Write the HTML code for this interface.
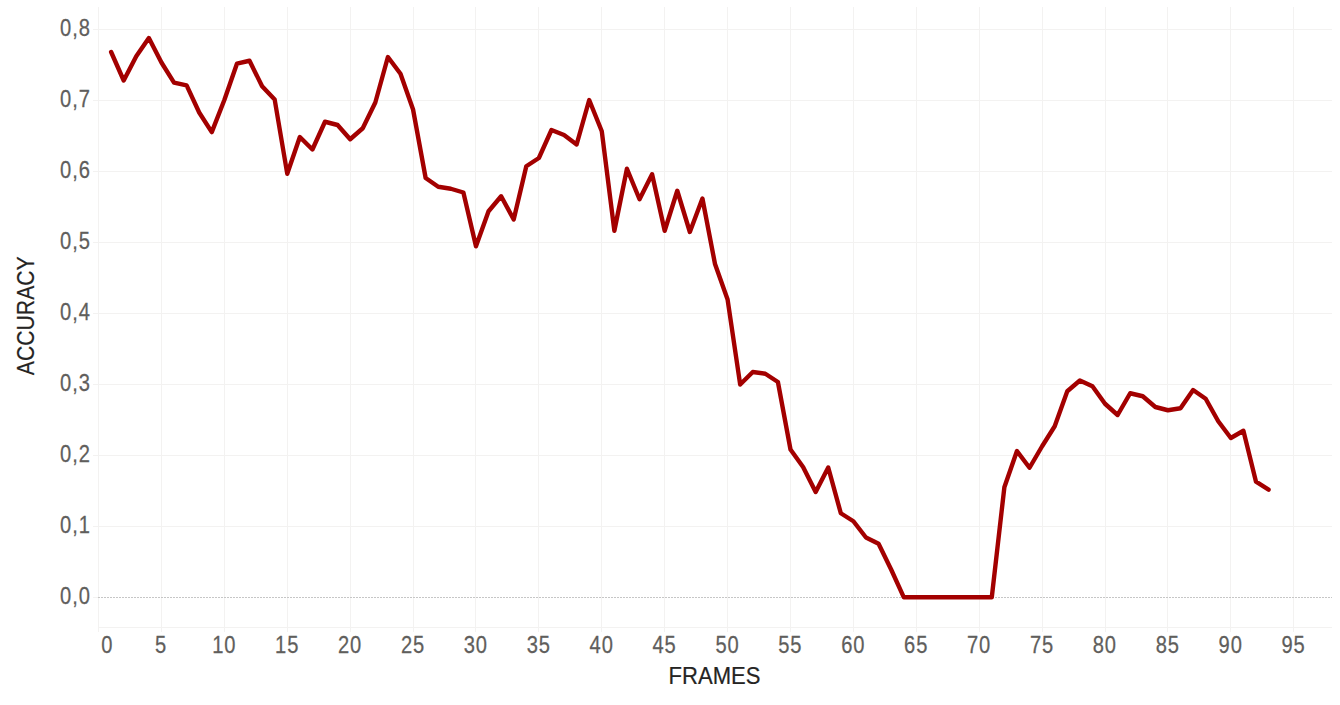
<!DOCTYPE html>
<html><head><meta charset="utf-8"><title>chart</title>
<style>
html,body{margin:0;padding:0;background:#fff;}
body{width:1340px;height:705px;overflow:hidden;font-family:"Liberation Sans",sans-serif;}
svg{display:block;position:absolute;left:0;top:0;}
text{font-family:"Liberation Sans",sans-serif;}
</style></head><body>
<svg width="1340" height="705" viewBox="0 0 1340 705">
<rect width="1340" height="705" fill="#ffffff"/>

<g fill="#f3f2f1" shape-rendering="crispEdges">
<rect x="98" y="7" width="1" height="625"/>
<rect x="161" y="7" width="1" height="625"/>
<rect x="224" y="7" width="1" height="625"/>
<rect x="287" y="7" width="1" height="625"/>
<rect x="350" y="7" width="1" height="625"/>
<rect x="413" y="7" width="1" height="625"/>
<rect x="475" y="7" width="1" height="625"/>
<rect x="538" y="7" width="1" height="625"/>
<rect x="601" y="7" width="1" height="625"/>
<rect x="664" y="7" width="1" height="625"/>
<rect x="727" y="7" width="1" height="625"/>
<rect x="790" y="7" width="1" height="625"/>
<rect x="853" y="7" width="1" height="625"/>
<rect x="916" y="7" width="1" height="625"/>
<rect x="979" y="7" width="1" height="625"/>
<rect x="1042" y="7" width="1" height="625"/>
<rect x="1105" y="7" width="1" height="625"/>
<rect x="1167" y="7" width="1" height="625"/>
<rect x="1230" y="7" width="1" height="625"/>
<rect x="1293" y="7" width="1" height="625"/>
<rect x="93" y="29" width="1239" height="1"/>
<rect x="93" y="100" width="1239" height="1"/>
<rect x="93" y="171" width="1239" height="1"/>
<rect x="93" y="242" width="1239" height="1"/>
<rect x="93" y="313" width="1239" height="1"/>
<rect x="93" y="384" width="1239" height="1"/>
<rect x="93" y="455" width="1239" height="1"/>
<rect x="93" y="526" width="1239" height="1"/>
<rect x="98" y="627" width="1234" height="1"/>
<rect x="93" y="597" width="6" height="1"/>
</g>
<line x1="98" y1="597.5" x2="1332" y2="597.5" stroke="#c6c6c6" stroke-width="1" stroke-dasharray="2 1" shape-rendering="crispEdges"/>
<polyline fill="none" stroke="#a30000" stroke-width="4.4" stroke-linejoin="round" stroke-linecap="round" points="111.12,52.00 123.70,80.50 136.28,56.30 148.86,38.00 161.44,62.50 174.03,82.70 186.61,85.40 199.19,112.50 211.77,132.10 224.35,100.00 236.93,63.70 249.51,60.75 262.09,86.25 274.67,99.50 287.25,173.75 299.84,137.00 312.42,149.50 325.00,121.75 337.58,125.00 350.16,139.25 362.74,128.25 375.32,102.50 387.90,57.00 400.48,73.75 413.06,109.50 425.65,178.00 438.23,186.75 450.81,188.75 463.39,192.50 475.97,246.25 488.55,211.25 501.13,196.25 513.71,219.50 526.29,166.25 538.88,158.00 551.46,130.00 564.04,135.00 576.62,144.50 589.20,100.00 601.78,131.25 614.36,230.75 626.94,168.75 639.52,199.25 652.10,174.25 664.68,230.75 677.27,190.75 689.85,232.00 702.43,198.50 715.01,264.00 727.59,299.50 740.17,384.50 752.75,372.00 765.33,373.75 777.91,382.00 790.49,449.50 803.08,467.00 815.66,492.00 828.24,467.50 840.82,513.25 853.40,521.25 865.98,537.50 878.56,543.75 891.14,569.50 903.72,597.20 916.30,597.20 928.89,597.20 941.47,597.20 954.05,597.20 966.63,597.20 979.21,597.20 991.79,597.20 1004.37,487.25 1016.95,451.00 1029.53,467.75 1042.12,446.25 1054.70,426.25 1067.28,391.25 1079.86,380.50 1092.44,386.25 1105.02,403.75 1117.60,415.00 1130.18,393.25 1142.76,396.25 1155.34,407.00 1167.92,410.25 1180.51,408.25 1193.09,390.00 1205.67,398.75 1218.25,421.25 1230.83,438.00 1243.41,430.75 1255.99,481.70 1268.57,489.70"/>
<g fill="#605e5c" stroke="#605e5c" stroke-width="0.25" font-size="23.0">
<text transform="translate(60.0,36) scale(0.875,1)" letter-spacing="1.1">0,8</text>
<text transform="translate(60.0,107) scale(0.875,1)" letter-spacing="1.1">0,7</text>
<text transform="translate(60.0,178) scale(0.875,1)" letter-spacing="1.1">0,6</text>
<text transform="translate(60.0,249) scale(0.875,1)" letter-spacing="1.1">0,5</text>
<text transform="translate(60.0,320) scale(0.875,1)" letter-spacing="1.1">0,4</text>
<text transform="translate(60.0,391) scale(0.875,1)" letter-spacing="1.1">0,3</text>
<text transform="translate(60.0,462) scale(0.875,1)" letter-spacing="1.1">0,2</text>
<text transform="translate(60.0,533) scale(0.875,1)" letter-spacing="1.1">0,1</text>
<text transform="translate(60.0,604) scale(0.875,1)" letter-spacing="1.1">0,0</text>
</g>
<g fill="#605e5c" stroke="#605e5c" stroke-width="0.25" font-size="23.0">
<text transform="translate(101.19999999999999,653) scale(0.875,1)">0</text>
<text transform="translate(154.9,653) scale(0.875,1)">5</text>
<text transform="translate(212.2,653) scale(0.875,1)" letter-spacing="1.0">10</text>
<text transform="translate(275.1,653) scale(0.875,1)" letter-spacing="1.0">15</text>
<text transform="translate(338.0,653) scale(0.875,1)" letter-spacing="1.0">20</text>
<text transform="translate(400.9,653) scale(0.875,1)" letter-spacing="1.0">25</text>
<text transform="translate(463.8,653) scale(0.875,1)" letter-spacing="1.0">30</text>
<text transform="translate(526.7,653) scale(0.875,1)" letter-spacing="1.0">35</text>
<text transform="translate(589.6,653) scale(0.875,1)" letter-spacing="1.0">40</text>
<text transform="translate(652.5,653) scale(0.875,1)" letter-spacing="1.0">45</text>
<text transform="translate(715.4,653) scale(0.875,1)" letter-spacing="1.0">50</text>
<text transform="translate(778.3,653) scale(0.875,1)" letter-spacing="1.0">55</text>
<text transform="translate(841.2,653) scale(0.875,1)" letter-spacing="1.0">60</text>
<text transform="translate(904.1,653) scale(0.875,1)" letter-spacing="1.0">65</text>
<text transform="translate(967.0,653) scale(0.875,1)" letter-spacing="1.0">70</text>
<text transform="translate(1029.9,653) scale(0.875,1)" letter-spacing="1.0">75</text>
<text transform="translate(1092.8,653) scale(0.875,1)" letter-spacing="1.0">80</text>
<text transform="translate(1155.7,653) scale(0.875,1)" letter-spacing="1.0">85</text>
<text transform="translate(1218.6,653) scale(0.875,1)" letter-spacing="1.0">90</text>
<text transform="translate(1281.5,653) scale(0.875,1)" letter-spacing="1.0">95</text>
</g>
<text x="714.5" y="684.0" fill="#252423" font-size="23.8" stroke="#252423" stroke-width="0.2" text-anchor="middle" textLength="91.8" lengthAdjust="spacingAndGlyphs">FRAMES</text>
<text transform="translate(33.7,315.75) rotate(-90)" fill="#252423" font-size="23.8" stroke="#252423" stroke-width="0.2" text-anchor="middle" textLength="118.8" lengthAdjust="spacingAndGlyphs">ACCURACY</text>
</svg></body></html>
